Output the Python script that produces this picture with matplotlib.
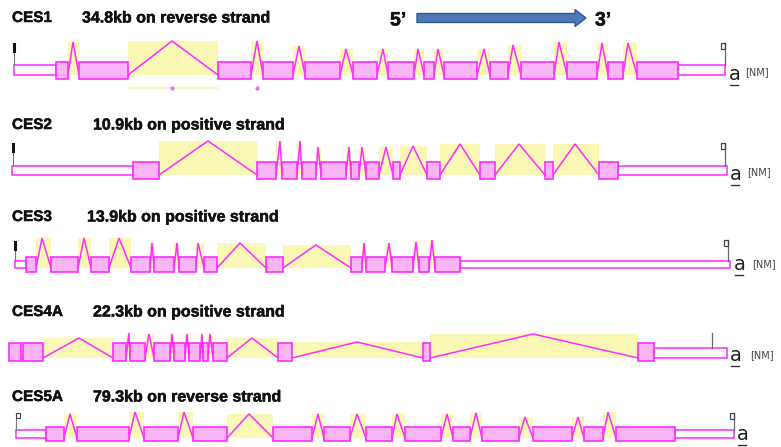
import matplotlib
matplotlib.use("Agg")
import matplotlib.pyplot as plt
from matplotlib.patches import Rectangle, FancyArrow
import matplotlib.patheffects as pe

# ---------------- data (gene-structure coordinates, diagram units) ----------------
GENES = ["CES1", "CES2", "CES3", "CES4A", "CES5A"]
SUBTITLES = ["34.8kb on reverse strand", "10.9kb on positive strand",
             "13.9kb on positive strand", "22.3kb on positive strand",
             "79.3kb on reverse strand"]

CES1_EXONS = [(56, 68), (79, 128), (218, 251), (263, 293), (305, 340), (353, 377),
              (388, 414), (424, 434), (444, 477), (490, 508), (521, 554), (567, 597),
              (608, 623), (637, 678)]
CES1_PEAKS = [(73, 42), (172, 41), (257, 41), (299, 46), (346, 49), (383, 49), (418, 49),
              (438, 49), (484, 49), (513, 45), (559, 42), (602, 43), (628, 43)]
CES1_UTRS = [(14, 56), (678, 725)]

CES2_EXONS = [(133, 159), (257, 276), (282, 297), (302, 316), (321, 346), (351, 359),
              (366, 379), (393, 400), (427, 440), (480, 495), (545, 553), (599, 618)]
CES2_PEAKS = [(208, 141), (280, 141), (300, 141), (318, 147), (349, 147), (362, 147),
              (386, 147), (413, 146), (460, 144), (519, 144), (575, 144)]
CES2_UTRS = [(12, 133), (618, 727)]

CES3_EXONS = [(26, 36), (51, 78), (91, 109), (131, 150), (154, 174), (179, 196),
              (204, 217), (266, 283), (351, 362), (366, 385), (392, 413), (419, 429),
              (435, 460)]
CES3_PEAKS = [(42, 238), (84, 238), (119, 238), (152, 243), (177, 243), (198, 243),
              (240, 243), (316, 245), (364, 243), (389, 243), (416, 242), (432, 240)]
CES3_UTRS = [(15, 26), (460, 730)]

CES4A_EXONS = [(9, 21), (23, 43), (113, 126), (130, 145), (154, 170), (174, 185),
               (189, 200), (203, 208), (213, 227), (278, 292), (423, 430), (638, 654)]
CES4A_PEAKS = [(22, 358), (79, 338), (129, 333), (149, 334), (172, 334), (187, 334),
               (202, 334), (210, 334), (252, 338), (357, 342), (533, 334)]
CES4A_UTRS = [(654, 727)]

CES5A_EXONS = [(46, 64), (77, 129), (144, 178), (193, 227), (273, 312), (324, 350),
               (366, 392), (405, 441), (453, 470), (482, 519), (533, 572), (584, 603),
               (616, 675)]
CES5A_PEAKS = [(70, 414), (135, 412), (184, 412), (249, 414), (318, 414), (357, 414),
               (397, 414), (447, 414), (476, 413), (525, 417), (578, 417), (608, 412)]
CES5A_UTRS = [(16, 46), (675, 734)]

EXONS = [CES1_EXONS, CES2_EXONS, CES3_EXONS, CES4A_EXONS, CES5A_EXONS]
PEAKS = [CES1_PEAKS, CES2_PEAKS, CES3_PEAKS, CES4A_PEAKS, CES5A_PEAKS]
UTRS = [CES1_UTRS, CES2_UTRS, CES3_UTRS, CES4A_UTRS, CES5A_UTRS]
NM_LABEL = [True, True, True, True, False]

# ---------------- layout ----------------
TITLE_Y = [18, 125, 217, 312, 397]
SUB_X = [82, 93, 87, 93, 93]
EXON_Y = [(62, 79), (162, 179), (257, 272), (343, 361), (427, 441)]
UTR_Y = [(65, 75), (166, 175), (261, 268), (348, 358), (430, 438)]
LEFT_MARK = [(14, 44, "bar"), (13, 144, "bar"), (15, 242, "bar"), None, (16, 413, "p")]
RIGHT_MARK = [(725, 43, "q"), (725, 143, "q"), (728, 240, "q"), (712, 333, "line"), (734, 413, "q")]
A_POS = [(729, 80), (730, 180), (734, 270), (730, 361), (737, 440)]
NM_POS = [(745, 72), (747, 172), (752, 264), (750, 355), None]

EXON_FILL = "#f9b4f6"
EDGE = "#ff2bff"
YELLOW = "#fbf8b6"

fig = plt.figure(figsize=(7.81, 4.47), dpi=100)
ax = fig.add_axes([0, 0, 1, 1])
ax.set_xlim(0, 781)
ax.set_ylim(447, 0)
ax.axis("off")

TF = "Liberation Sans"
HEAVY = [pe.withStroke(linewidth=0.35, foreground="#111111")]

for g in range(len(GENES)):
    ex = EXONS[g]
    pk = PEAKS[g]
    et, eb = EXON_Y[g]
    ut, ub = UTR_Y[g]
    # titles
    ax.text(12, TITLE_Y[g], GENES[g], fontsize=11, fontweight="bold", family=TF,
            va="center", ha="left", color="#111111", path_effects=HEAVY)
    ax.text(SUB_X[g], TITLE_Y[g], SUBTITLES[g], fontsize=11.5, fontweight="bold", family=TF,
            va="center", ha="left", color="#111111", path_effects=HEAVY)
    # introns
    for i in range(len(ex) - 1):
        x0 = ex[i][1]
        x1 = ex[i + 1][0]
        px, py = pk[i]
        if ub - py > 1:
            ax.add_patch(Rectangle((x0, py), x1 - x0, ub - py, facecolor=YELLOW,
                                   edgecolor="none", zorder=1))
        ax.plot([x0, px, x1], [ub, py, ub], color=EDGE, lw=1.1, zorder=2,
                solid_joinstyle="miter")
    # UTRs
    for (s, e) in UTRS[g]:
        ax.add_patch(Rectangle((s, ut), e - s, ub - ut, facecolor="white",
                               edgecolor=EDGE, lw=1.1, zorder=3))
    # exons
    for (s, e) in ex:
        ax.add_patch(Rectangle((s, et), e - s, eb - et, facecolor=EXON_FILL,
                               edgecolor=EDGE, lw=1.2, zorder=4))
    # left marker
    lm = LEFT_MARK[g]
    if lm is not None:
        x, top, kind = lm
        ax.plot([x, x], [top, ut], color="#777777", lw=0.8, zorder=5)
        if kind == "bar":
            ax.plot([x, x], [top, top + 7], color="#111111", lw=2.2, zorder=5)
        else:
            ax.add_patch(Rectangle((x, top), 3.5, 5, facecolor="none",
                                   edgecolor="#444444", lw=0.8, zorder=5))
    # right marker
    x, top, kind = RIGHT_MARK[g]
    ax.plot([x, x], [top, ut], color="#666666", lw=0.9, zorder=5)
    if kind == "q":
        ax.add_patch(Rectangle((x - 4, top), 4, 5.5, facecolor="none",
                               edgecolor="#444444", lw=0.9, zorder=5))
    # "a" label with underline
    axx, ayy = A_POS[g]
    ax.text(axx, ayy, "a", fontsize=14, family="DejaVu Sans", color="#222222",
            ha="left", va="baseline")
    ax.plot([axx + 0.5, axx + 9], [ayy + 4.5, ayy + 4.5], color="#333333", lw=1.0)
    if NM_LABEL[g]:
        nx, ny = NM_POS[g]
        ax.text(nx, ny, "[NM]", fontsize=7, family="DejaVu Sans", color="#444444",
                ha="left", va="center")

# faint artefacts below CES1
ax.plot([128, 218], [88, 88], color="#f8f4b0", lw=1.2, zorder=1)
ax.plot([172, 257], [88, 88], ls="none", marker="o", ms=2, color="#f36af0", zorder=2)

# 5' -> 3' arrow
ax.text(390, 21, "5\u2019", fontsize=14, fontweight="bold", family=TF, va="center",
        ha="left", color="#111111", path_effects=HEAVY)
ax.text(595, 21, "3\u2019", fontsize=14, fontweight="bold", family=TF, va="center",
        ha="left", color="#111111", path_effects=HEAVY)
ax.add_patch(FancyArrow(417, 18, 158, 0, width=9, head_width=17, head_length=11,
                        length_includes_head=False, facecolor="#4a78b8",
                        edgecolor="#345c8c", lw=1.0))

fig.savefig("out.png", dpi=100)
